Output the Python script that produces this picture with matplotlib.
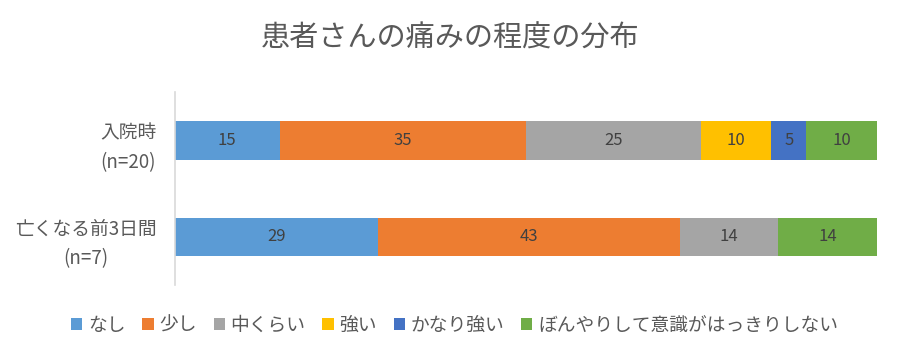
import matplotlib
matplotlib.use("Agg")
from matplotlib import pyplot as plt

plt.rcParams['font.family'] = ['Noto Sans CJK JP', 'DejaVu Sans']

groups = ['入院時\n(n=20)', '亡くなる前3日間\n(n=7)']
levels = ['なし', '少し', '中くらい', '強い', 'かなり強い', 'ぼんやりして意識がはっきりしない']
admission = [15, 35, 25, 10, 5, 10]
last3days = [29, 43, 14, 0, 0, 14]
colors = ['#5B9BD5', '#ED7D31', '#A5A5A5', '#FFC000', '#4472C4', '#70AD47']
txt = '#595959'

fig = plt.figure(figsize=(9, 3.6), dpi=100)
ax = fig.add_axes([0.194, 0.208, 0.780, 0.536])

ypos = [1, 0]
left = [0, 0]
for k in range(len(levels)):
    vals = [admission[k], last3days[k]]
    bars = ax.barh(ypos, vals, left=left, height=0.4, color=colors[k], label=levels[k])
    for b, v in zip(bars, vals):
        if v > 0:
            ax.text(b.get_x() + b.get_width() / 2, b.get_y() + b.get_height() / 2, str(v),
                    ha='center', va='center', color='#404040', fontsize=12)
    left = [left[0] + vals[0], left[1] + vals[1]]

ax.set_xlim(0, 100)
ax.set_ylim(-0.5, 1.5)
ax.set_yticks(ypos)
ax.set_yticklabels(groups, fontsize=13.5, color=txt, linespacing=1.55, multialignment='center')
ax.set_xticks([])
ax.tick_params(axis='y', length=0, pad=13)
for s in ['top', 'right', 'bottom']:
    ax.spines[s].set_visible(False)
ax.spines['left'].set_color('#D9D9D9')
ax.spines['left'].set_linewidth(1.2)

fig.suptitle('患者さんの痛みの程度の分布', fontsize=21, color=txt, y=0.935)

fig.legend(loc='center', bbox_to_anchor=(0.505, 0.097), ncol=6, frameon=False,
           fontsize=13.5, labelcolor=txt, handlelength=0.6, handleheight=0.6,
           handletextpad=0.3, columnspacing=0.9)

fig.savefig('out.png', dpi=100)
